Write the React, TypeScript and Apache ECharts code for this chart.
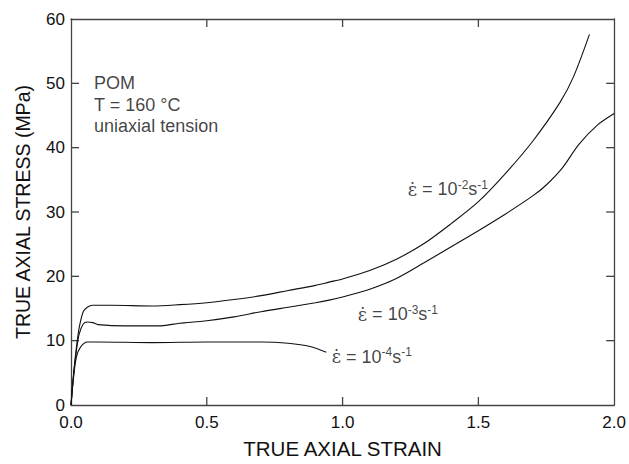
import React, { useEffect, useRef } from "react";
import * as echarts from "echarts";

const rate2Strain = [0, 0.01, 0.02, 0.03, 0.045, 0.06, 0.08, 0.15, 0.3, 0.4, 0.5, 0.6, 0.7, 0.8, 0.9, 0.95, 1.0, 1.1, 1.2, 1.3, 1.4, 1.5, 1.6, 1.7, 1.8, 1.85, 1.909];
const rate2Stress = [0, 5, 9, 12, 14.5, 15.2, 15.5, 15.5, 15.4, 15.6, 15.9, 16.4, 17, 17.8, 18.6, 19.1, 19.6, 20.9, 22.7, 25.1, 28.2, 31.6, 36.0, 41.0, 47.0, 51.0, 57.6];

const rate3Strain = [0, 0.01, 0.02, 0.03, 0.045, 0.06, 0.08, 0.1, 0.2, 0.32, 0.4, 0.5, 0.6, 0.7, 0.8, 0.9, 0.95, 1.0, 1.1, 1.2, 1.3, 1.4, 1.5, 1.6, 1.7, 1.75, 1.81, 1.87, 1.935, 2.0];
const rate3Stress = [0, 5, 8.5, 11, 12.6, 12.9, 12.8, 12.5, 12.3, 12.3, 12.7, 13.1, 13.7, 14.5, 15.2, 15.9, 16.3, 16.8, 18.0, 19.7, 22.1, 24.6, 27.1, 29.7, 32.5, 34.2, 36.9, 40.5, 43.4, 45.3];

const rate4Strain = [0, 0.01, 0.02, 0.035, 0.06, 0.1, 0.3, 0.5, 0.7, 0.8, 0.88, 0.94];
const rate4Stress = [0, 4.5, 7.5, 9, 9.8, 9.8, 9.7, 9.8, 9.8, 9.6, 9.1, 8.2];

const xTickValues = [0.5, 1.0, 1.5];
const yTickValues = [10, 20, 30, 40, 50];
const X_MIN = 0, X_MAX = 2, Y_MIN = 0, Y_MAX = 60;

const rateLabels = [
  { x: 1.24, y: 33.5, exp: "-2" },
  { x: 1.056, y: 14.1, exp: "-3" },
  { x: 0.96, y: 7.5, exp: "-4" },
];
const infoLines = ["POM", "T = 160 °C", "uniaxial tension"];
const infoPos = [
  { x: 0.085, y: 50.0 },
  { x: 0.085, y: 46.7 },
  { x: 0.085, y: 43.4 },
];

const FONT = "'Liberation Sans', Arial, sans-serif";
const AXIS_COLOR = "#444";
const TICK_LEN = 8;

function makeAxisLine() {
  return { show: true, onZero: false, lineStyle: { color: AXIS_COLOR, width: 1.3 } };
}

export default function App() {
  const ref = useRef<HTMLDivElement>(null);
  useEffect(() => {
    if (!ref.current) return;
    const chart = echarts.init(ref.current, null, { renderer: "svg" });
    const zip = (a: number[], b: number[]) => a.map((v, i) => [v, b[i]]);
    const lineStyle = { color: "#111", width: 1.1 };
    const tickStyle = { stroke: AXIS_COLOR, lineWidth: 1.3 };
    chart.setOption({
      animation: false,
      textStyle: { fontFamily: FONT },
      grid: { left: 71, right: 11, top: 19, bottom: 52, containLabel: false },
      xAxis: [
        {
          type: "value",
          min: X_MIN,
          max: X_MAX,
          interval: 0.5,
          position: "bottom",
          axisLine: makeAxisLine(),
          axisTick: { show: false },
          splitLine: { show: false },
          axisLabel: { color: "#111", fontSize: 17, fontFamily: FONT, margin: 9, formatter: (v: number) => v.toFixed(1) },
          name: "TRUE AXIAL STRAIN",
          nameLocation: "middle",
          nameGap: 33,
          nameTextStyle: { color: "#111", fontSize: 20.5, fontFamily: FONT },
        },
        {
          type: "value",
          min: X_MIN,
          max: X_MAX,
          interval: 0.5,
          position: "top",
          axisLine: makeAxisLine(),
          axisTick: { show: false },
          splitLine: { show: false },
          axisLabel: { show: false },
        },
      ],
      yAxis: [
        {
          type: "value",
          min: Y_MIN,
          max: Y_MAX,
          interval: 10,
          position: "left",
          axisLine: makeAxisLine(),
          axisTick: { show: false },
          splitLine: { show: false },
          axisLabel: { color: "#111", fontSize: 17, fontFamily: FONT, margin: 6 },
          name: "TRUE AXIAL STRESS (MPa)",
          nameLocation: "middle",
          nameGap: 38,
          nameTextStyle: { color: "#111", fontSize: 19.5, fontFamily: FONT },
        },
        {
          type: "value",
          min: Y_MIN,
          max: Y_MAX,
          interval: 10,
          position: "right",
          axisLine: makeAxisLine(),
          axisTick: { show: false },
          splitLine: { show: false },
          axisLabel: { show: false },
        },
      ],
      series: [
        { type: "line", data: zip(rate2Strain, rate2Stress), showSymbol: false, smooth: 0.3, lineStyle },
        { type: "line", data: zip(rate3Strain, rate3Stress), showSymbol: false, smooth: 0.3, lineStyle },
        { type: "line", data: zip(rate4Strain, rate4Stress), showSymbol: false, smooth: 0.3, lineStyle },
        {
          type: "custom",
          silent: true,
          clip: false,
          data: xTickValues.map((v) => [v, Y_MIN]),
          renderItem: (_p: any, api: any) => {
            const b = api.coord([api.value(0), Y_MIN]);
            const t = api.coord([api.value(0), Y_MAX]);
            return {
              type: "group",
              children: [
                { type: "line", shape: { x1: b[0], y1: b[1], x2: b[0], y2: b[1] - TICK_LEN }, style: tickStyle },
                { type: "line", shape: { x1: t[0], y1: t[1], x2: t[0], y2: t[1] + TICK_LEN }, style: tickStyle },
              ],
            };
          },
        },
        {
          type: "custom",
          silent: true,
          clip: false,
          data: yTickValues.map((v) => [X_MIN, v]),
          renderItem: (_p: any, api: any) => {
            const l = api.coord([X_MIN, api.value(1)]);
            const r = api.coord([X_MAX, api.value(1)]);
            return {
              type: "group",
              children: [
                { type: "line", shape: { x1: l[0], y1: l[1], x2: l[0] + TICK_LEN, y2: l[1] }, style: tickStyle },
                { type: "line", shape: { x1: r[0], y1: r[1], x2: r[0] - TICK_LEN, y2: r[1] }, style: tickStyle },
              ],
            };
          },
        },
        {
          type: "scatter",
          symbolSize: 0,
          silent: true,
          data: rateLabels.map((r) => ({
            value: [r.x, r.y],
            label: {
              show: true,
              position: "right",
              distance: 0,
              formatter: `{e|ε̇}{n| = 10}{s|${r.exp}}{n|s}{s|-1}`,
              rich: {
                e: { fontSize: 18, color: "#111", fontFamily: "'DejaVu Serif', serif" },
                n: { fontSize: 18, color: "#111", fontFamily: FONT },
                s: { fontSize: 12, color: "#111", fontFamily: FONT, verticalAlign: "top", padding: [0, 0, 9, 0] },
              },
            },
          })),
        },
        {
          type: "scatter",
          symbolSize: 0,
          silent: true,
          data: infoPos.map((p, i) => ({
            value: [p.x, p.y],
            label: {
              show: true,
              position: "right",
              distance: 0,
              formatter: infoLines[i],
              fontSize: 18,
              color: "#111",
              fontFamily: FONT,
            },
          })),
        },
      ],
    });
    return () => chart.dispose();
  }, []);
  return <div ref={ref} style={{ width: 629, height: 464, position: "absolute", left: 0, top: 0 }} />;
}
